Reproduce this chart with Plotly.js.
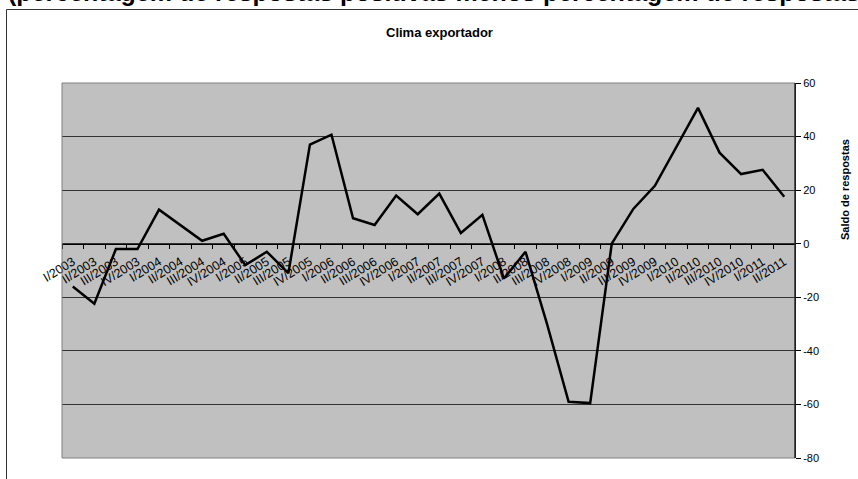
<!DOCTYPE html>
<html>
<head>
<meta charset="utf-8">
<script src="https://cdn.plot.ly/plotly-3.0.1.min.js"></script>
<style>html,body{margin:0;padding:0;background:#fff;}#chart{width:858px;height:479px;}</style>
</head>
<body>
<div id="chart"></div>
<script>
const quarters = ["I/2003","II/2003","III/2003","IV/2003","I/2004","II/2004","III/2004","IV/2004",
  "I/2005","II/2005","III/2005","IV/2005","I/2006","II/2006","III/2006","IV/2006",
  "I/2007","II/2007","III/2007","IV/2007","I/2008","II/2008","III/2008","IV/2008",
  "I/2009","II/2009","III/2009","IV/2009","I/2010","II/2010","III/2010","IV/2010",
  "I/2011","II/2011"];
const saldo = [-16, -22.4, -2, -2, 12.7, 7, 1.1, 3.7,
  -8, -3, -11, 37, 40.7, 9.5, 7, 18,
  11, 18.7, 4, 10.8, -13, -3, -30, -59,
  -59.5, 0, 13, 21.6, 36, 50.7, 34, 26,
  27.6, 17.5];
const yTicks = [-80, -60, -40, -20, 0, 20, 40, 60];

const FONT = "'Liberation Sans', Arial, sans-serif";
const L = 62, R = 795, T = 83, B = 458, W = 858, H = 479;
const px = x => (x - L) / (R - L);
const py = y => (B - y) / (B - T);

const trace = {
  x: quarters, y: saldo, type: 'scatter', mode: 'lines',
  line: {color: '#000', width: 2.5}, hoverinfo: 'skip', showlegend: false
};

const layout = {
  width: W, height: H,
  margin: {l: L, r: W - R, t: T, b: H - B, pad: 0},
  paper_bgcolor: '#fff', plot_bgcolor: '#c0c0c0',
  font: {family: FONT, size: 11, color: '#000'},
  showlegend: false,
  xaxis: {
    type: 'category', anchor: 'free', position: 80 / 140,
    range: [-0.5, quarters.length - 0.5],
    showline: true, linecolor: '#000', linewidth: 1,
    ticks: 'outside', ticklen: 4, tickcolor: '#000', tickson: 'boundaries',
    tickangle: -32, ticklabelstandoff: 5,
    tickfont: {family: FONT, size: 12.5, color: '#000'},
    showgrid: false, zeroline: false, fixedrange: true
  },
  yaxis: {
    side: 'right', range: [-80, 60], tickvals: yTicks,
    ticktext: yTicks.map(String),
    showline: true, linecolor: '#000', linewidth: 1,
    ticks: 'outside', ticklen: 5, tickcolor: '#000',
    tickfont: {family: FONT, size: 11, color: '#000'},
    showgrid: true, gridcolor: '#333', gridwidth: 1,
    zeroline: false, fixedrange: true
  },
  shapes: [
    {type: 'rect', xref: 'paper', yref: 'paper', x0: 0, x1: 1, y0: 0, y1: 1,
     line: {color: '#808080', width: 1}, layer: 'above'},
    {type: 'line', xref: 'paper', yref: 'paper', x0: 1, x1: 1, y0: 0, y1: 1,
     line: {color: '#000', width: 1}, layer: 'above'},
    {type: 'rect', xref: 'paper', yref: 'paper', x0: px(6.5), x1: px(900), y0: py(520), y1: py(9.5),
     line: {color: '#333', width: 1}, layer: 'below'}
  ],
  annotations: [
    {text: '(percentagem de respostas positivas menos percentagem de respostas negativas)',
     xref: 'paper', yref: 'paper', x: px(6), y: py(-7.5), xanchor: 'left', yanchor: 'middle',
     showarrow: false, font: {family: FONT, size: 25, color: '#000', weight: 'bold'}},
    {text: '<b>Clima exportador</b>', xref: 'paper', yref: 'paper', x: px(439), y: py(32),
     xanchor: 'center', yanchor: 'middle', showarrow: false,
     font: {family: FONT, size: 13, color: '#000'}},
    {text: '<b>Saldo de respostas</b>', xref: 'paper', yref: 'paper', x: px(845), y: py(190),
     xanchor: 'center', yanchor: 'middle', textangle: -90, showarrow: false,
     font: {family: FONT, size: 11, color: '#000'}}
  ]
};

Plotly.newPlot('chart', [trace], layout, {displayModeBar: false, staticPlot: true});
</script>
</body>
</html>
